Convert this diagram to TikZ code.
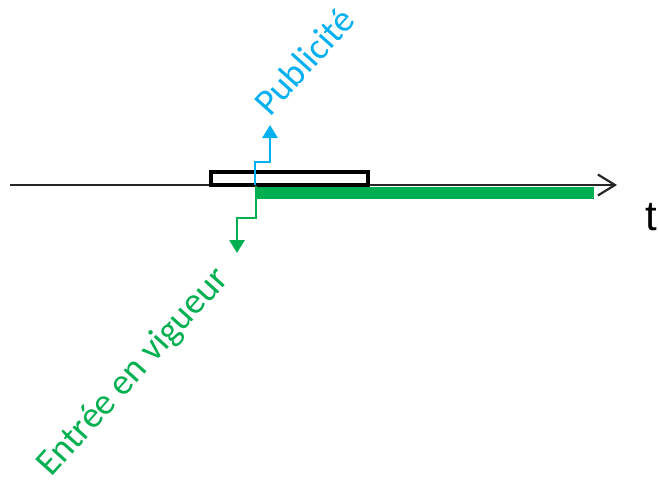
\documentclass[tikz,border=0pt]{standalone}
\usepackage{fontspec}
\setmainfont{Carlito}
\newfontfamily\axisfont{Liberation Sans}
\usetikzlibrary{arrows.meta}
\definecolor{pubblue}{RGB}{0,176,240}
\definecolor{envgreen}{RGB}{0,176,80}
\tikzset{
  axisline/.style={line width=2pt, black!85, -{Straight Barb[length=17pt,width=21pt,line width=2.2pt]}},
  periodbox/.style={line width=3.4pt, black},
  stepline/.style={line width=2.8pt, -{Triangle[length=13pt,width=15pt]}},
  slanted/.style={font=\fontsize{37}{40}\selectfont, inner sep=0pt}
}
\begin{document}
\begin{tikzpicture}[x=1pt, y=-1pt]
      \useasboundingbox (0,0) rectangle (658,484);
      % time axis
      \coordinate (axisstart) at (10,185);
      \coordinate (axisend) at (617,185);
      \draw[axisline] (axisstart) -- (axisend);
      \node[font=\axisfont\fontsize{42}{44}\selectfont, inner sep=0pt, anchor=base west] (tlabel) at (645,230) {t};

      % period box and validity bar
      \coordinate (boxsw) at (211,185);
      \coordinate (boxne) at (368,172);
      \draw[periodbox] (boxsw) rectangle (boxne);
      \coordinate (barnw) at (256,187);
      \coordinate (barse) at (594,199);
      \fill[envgreen] (barnw) rectangle (barse);

      % publication step
      \coordinate (pubfoot) at (255,185);
      \coordinate (pubtip) at (270,125);
      \draw[stepline, pubblue] (pubfoot) -- (255,162) -- (270,162) -- (pubtip);
      \node[slanted, pubblue, anchor=base west, rotate=48] (publicite) at (270,118) {Publicité};

      % entry into force step
      \coordinate (envfoot) at (256,186);
      \coordinate (envtip) at (237,253);
      \draw[stepline, envgreen] (envfoot) -- (256,218) -- (237,218) -- (envtip);
      \node[slanted, envgreen, anchor=base east, rotate=48] (vigueur) at (230,280) {Entrée en vigueur};
\end{tikzpicture}
\end{document}
